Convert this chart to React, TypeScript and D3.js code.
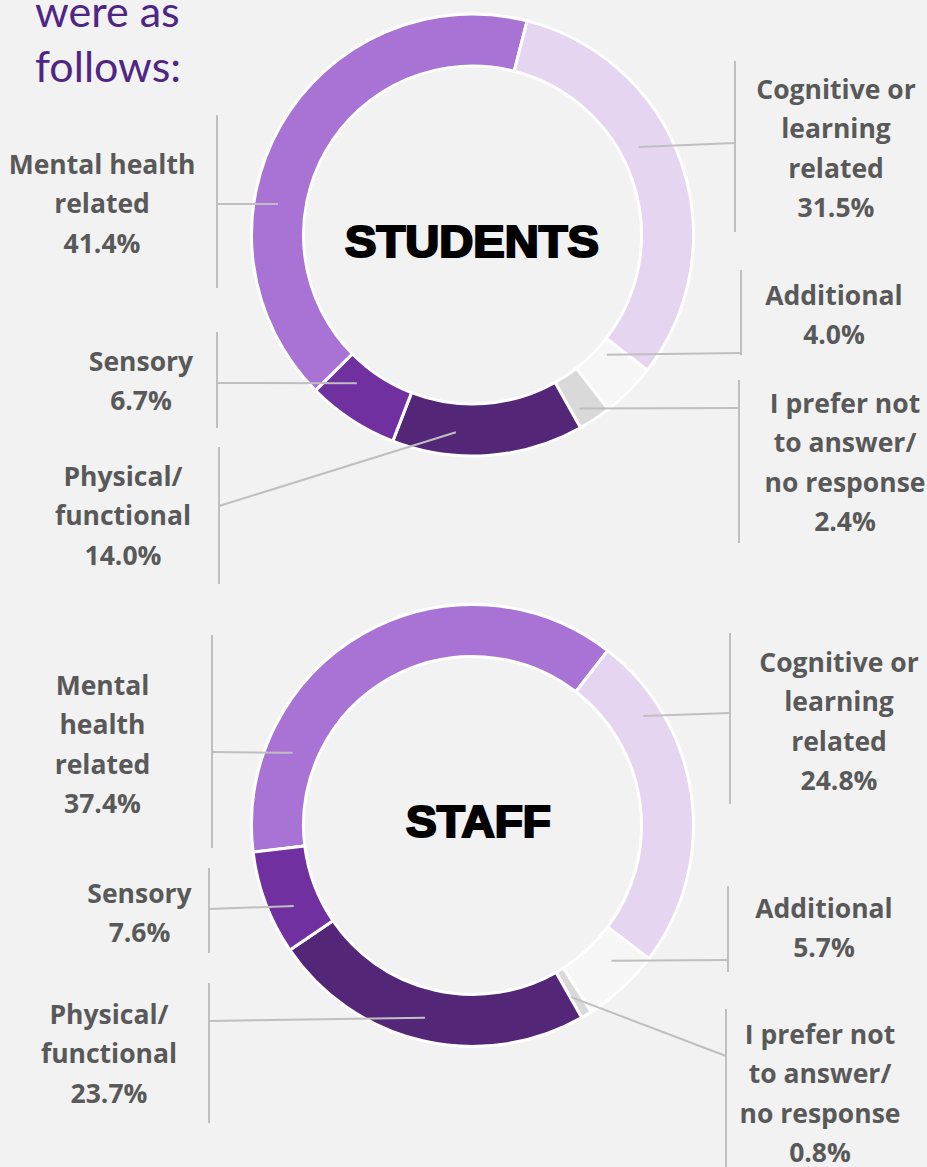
import React from "react";
import * as d3 from "d3";

// ---------- data ----------
const categories = [
  "Mental health related",
  "Cognitive or learning related",
  "Additional",
  "I prefer not to answer/ no response",
  "Physical/ functional",
  "Sensory",
];
const studentValues = [41.4, 31.5, 4.0, 2.4, 14.0, 6.7];
const staffValues = [37.4, 24.8, 5.7, 0.8, 23.7, 7.6];

const studentLabelLines = [
  ["Mental health", "related"],
  ["Cognitive or", "learning", "related"],
  ["Additional"],
  ["I prefer not", "to answer/", "no response"],
  ["Physical/", "functional"],
  ["Sensory"],
];
const staffLabelLines = [
  ["Mental", "health", "related"],
  ["Cognitive or", "learning", "related"],
  ["Additional"],
  ["I prefer not", "to answer/", "no response"],
  ["Physical/", "functional"],
  ["Sensory"],
];
const introLines = ["were as", "follows:"];

// ---------- styles / layout ----------
const colors = ["#A873D5", "#E5D5F1", "#F6F6F6", "#D9D9D9", "#532677", "#7030A0"];
const W = 927;
const H = 1167;
const R_OUT = 221;
const R_IN = 169;
const LINE_H = 39.3;

type Callout = { t: number; r: number; bx: number; b0: number; b1: number; jy: number; tx: number; ty: number };

const charts = [
  {
    title: "STUDENTS",
    values: studentValues,
    lines: studentLabelLines,
    cx: 472.5,
    cy: 235,
    startDeg: -134.74,
    titleX: 472,
    titleY: 257,
    titleLen: 256,
    callouts: [
      { t: 0.361, r: 197, bx: 217, b0: 115, b1: 288, jy: 204, tx: 102, ty: 174 },
      { t: 0.4215, r: 188, bx: 735, b0: 61, b1: 232, jy: 143, tx: 836, ty: 99 },
      { t: 0.28, r: 180, bx: 741, b0: 270, b1: 355, jy: 353, tx: 834, ty: 305 },
      { t: 0.72, r: 204, bx: 739, b0: 380, b1: 543, jy: 408, tx: 845, ty: 413 },
      { t: 0.676, r: 198, bx: 219, b0: 447, b1: 584, jy: 506, tx: 123, ty: 486 },
      { t: 0.698, r: 188, bx: 217, b0: 332, b1: 428, jy: 383, tx: 141, ty: 371 },
    ] as Callout[],
  },
  {
    title: "STAFF",
    values: staffValues,
    lines: staffLabelLines,
    cx: 472.5,
    cy: 825.5,
    startDeg: -96.94,
    titleX: 478.5,
    titleY: 837,
    titleLen: 147,
    callouts: [
      { t: 0.215, r: 194, bx: 212, b0: 635, b1: 848, jy: 752, tx: 102.5, ty: 695 },
      { t: 0.22, r: 203, bx: 730, b0: 633, b1: 804, jy: 713, tx: 839, ty: 672 },
      { t: 0.352, r: 194, bx: 728, b0: 886, b1: 972, jy: 960, tx: 824, ty: 918 },
      { t: 0.9, r: 198, bx: 726, b0: 1009, b1: 1167, jy: 1056, tx: 820, ty: 1044 },
      { t: 0.51, r: 198, bx: 209, b0: 983, b1: 1123, jy: 1021, tx: 109, ty: 1024 },
      { t: 0.367, r: 196, bx: 209, b0: 868, b1: 953, jy: 909, tx: 139.5, ty: 903 },
    ] as Callout[],
  },
];

const arcGen = d3.arc<d3.PieArcDatum<number>>().innerRadius(R_IN).outerRadius(R_OUT);

function Donut({ chart }: { chart: (typeof charts)[number] }) {
  const s = (chart.startDeg * Math.PI) / 180;
  const pie = d3
    .pie<number>()
    .sort(null)
    .value((d) => d)
    .startAngle(s)
    .endAngle(s + 2 * Math.PI);
  const arcs = pie(chart.values);
  return (
    <g>
      <g transform={`translate(${chart.cx},${chart.cy})`}>
        {arcs.map((a, i) => (
          <path
            key={categories[i]}
            d={arcGen(a) || ""}
            fill={colors[i]}
            stroke="#FFFFFF"
            strokeWidth={3}
            strokeLinejoin="miter"
          />
        ))}
      </g>
      {arcs.map((a, i) => {
        const c = chart.callouts[i];
        const ang = a.startAngle + c.t * (a.endAngle - a.startAngle);
        const px = chart.cx + c.r * Math.sin(ang);
        const py = chart.cy - c.r * Math.cos(ang);
        const lines = [...chart.lines[i], `${chart.values[i].toFixed(1)}%`];
        return (
          <g key={"c" + i}>
            <line x1={c.bx} x2={c.bx} y1={c.b0} y2={c.b1} stroke="#BFBFBF" strokeWidth={2} />
            <line x1={px} y1={py} x2={c.bx} y2={c.jy} stroke="#BFBFBF" strokeWidth={2} />
            <text
              textAnchor="middle"
              fontFamily="'Open Sans', sans-serif"
              fontWeight={700}
              fontSize={26.5}
              fill="#595959"
            >
              {lines.map((ln, j) => (
                <tspan key={j} x={c.tx} y={c.ty + j * LINE_H}>
                  {ln}
                </tspan>
              ))}
            </text>
          </g>
        );
      })}
      <text
        x={chart.titleX}
        y={chart.titleY}
        textAnchor="middle"
        fontFamily="'Liberation Sans', Arial, sans-serif"
        fontWeight={900}
        fontSize={44}
        fill="#000"
        stroke="#000"
        strokeWidth={2.2}
        textLength={chart.titleLen - 2}
        lengthAdjust="spacingAndGlyphs"
      >
        {chart.title}
      </text>
    </g>
  );
}

export default function App() {
  return (
    <svg
      width={W}
      height={H}
      viewBox={`0 0 ${W} ${H}`}
      style={{ position: "absolute", left: 0, top: 0, display: "block" }}
    >
      <rect x={0} y={0} width={W} height={H} fill="#F2F2F2" />
      <text fontFamily="Lato, sans-serif" fontSize={43} fill="#4F2683">
        {introLines.map((ln, j) => (
          <tspan key={j} x={35} y={27 + j * 55}>
            {ln}
          </tspan>
        ))}
      </text>
      {charts.map((c) => (
        <Donut key={c.title} chart={c} />
      ))}
    </svg>
  );
}
